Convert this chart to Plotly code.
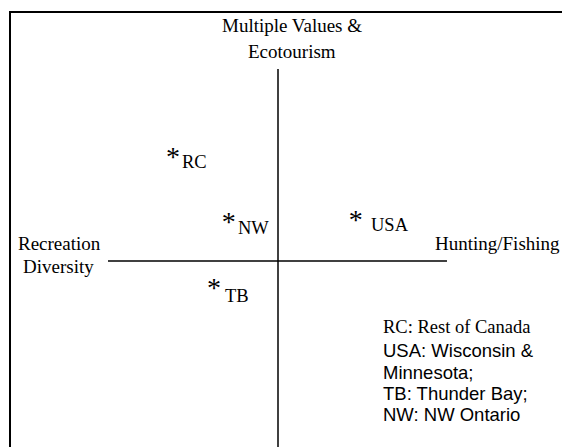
import plotly.graph_objects as go

# ---------------- data ----------------
point_names = ["RC", "NW", "USA", "TB"]
point_x = [-3.09, -1.45, 2.29, -1.88]
point_y = [3.00, 1.10, 1.15, -0.84]

axis_top_label = ["Multiple Values &", "Ecotourism"]
axis_left_label = ["Recreation", "Diversity"]
axis_right_label = ["Hunting/Fishing"]

key_lines = ["RC: Rest of Canada", "USA: Wisconsin &", "Minnesota;",
             "TB: Thunder Bay;", "NW: NW Ontario"]

# ---------------- layout helpers ----------------
W, H = 562, 447
CX, CY, S = 278, 261, 34.0   # pixel centre of the cross and px per unit

def px(x):
    return x / W

def py(y):
    return 1 - y / H

SERIF = "Liberation Serif, Times New Roman, serif"
SANS = "Liberation Sans, Arial, sans-serif"
FS = 18.5

fig = go.Figure()

# asterisk markers
fig.add_trace(go.Scatter(
    x=point_x, y=point_y, mode="text", text=["*"] * len(point_x),
    textposition="middle center",
    textfont=dict(family=SERIF, size=28, color="black"),
    hoverinfo="skip", showlegend=False,
))

annotations = []
# point labels (offsets in px from the point)
label_shift = {"RC": (7, -3), "NW": (7, -4.5), "USA": (13, -3), "TB": (9, -6.5)}
for n, x, y in zip(point_names, point_x, point_y):
    dx, dy = label_shift[n]
    annotations.append(dict(
        x=x, y=y, xref="x", yref="y", text=n, showarrow=False,
        xanchor="left", yanchor="middle", xshift=dx, yshift=dy,
        font=dict(family=SERIF, size=FS, color="black")))

# axis end labels (pixel centre positions)
for txt, cx, cy in [(axis_top_label[0], 292, 26), (axis_top_label[1], 292, 52),
                    (axis_left_label[0], 59, 243), (axis_left_label[1], 58, 266),
                    (axis_right_label[0], 497, 243)]:
    annotations.append(dict(
        x=px(cx), y=py(cy), xref="paper", yref="paper", text=txt,
        showarrow=False, xanchor="center", yanchor="middle",
        font=dict(family=SERIF, size=FS + 0.5, color="black")))

# key
key_y = [327, 350, 372, 393, 414]
for i, (txt, cy) in enumerate(zip(key_lines, key_y)):
    annotations.append(dict(
        x=px(381), y=py(cy), xref="paper", yref="paper", text=txt,
        showarrow=False, xanchor="left", yanchor="middle",
        font=dict(family=SERIF if i == 0 else SANS, size=FS, color="black")))

shapes = [
    # horizontal arm
    dict(type="line", xref="x", yref="y", x0=-5.0, x1=4.97, y0=0, y1=0,
         line=dict(color="black", width=1.5)),
    # vertical arm
    dict(type="line", xref="x", yref="y", x0=0, x1=0, y0=-5.6, y1=5.65,
         line=dict(color="black", width=1.5)),
    # frame
    dict(type="rect", xref="paper", yref="paper", x0=px(10), y0=py(12),
         x1=1.05, y1=-0.05, line=dict(color="black", width=2)),
]

fig.update_layout(
    width=W, height=H, margin=dict(l=0, r=0, t=0, b=0),
    paper_bgcolor="white", plot_bgcolor="white",
    xaxis=dict(range=[(0 - CX) / S, (W - CX) / S], visible=False, fixedrange=True),
    yaxis=dict(range=[(CY - H) / S, CY / S], visible=False, fixedrange=True),
    annotations=annotations, shapes=shapes, showlegend=False,
)

fig.write_html("out.html", config={"displayModeBar": False},
               post_script="document.body.style.margin='0';document.body.style.overflow='hidden';")
